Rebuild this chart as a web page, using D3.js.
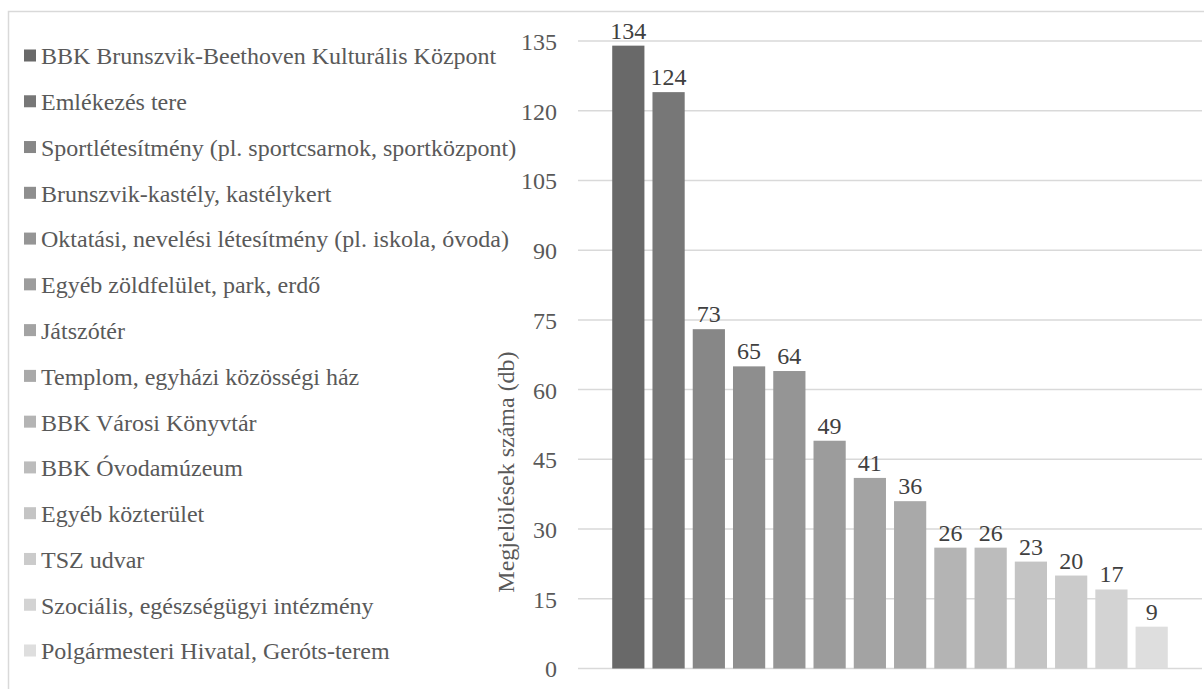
<!DOCTYPE html>
<html><head><meta charset="utf-8">
<script src="https://cdn.jsdelivr.net/npm/d3@7"></script>
<style>
html,body{margin:0;padding:0;background:#fff;}
svg{display:block;}
</style></head>
<body>
<svg id="chart" width="1204" height="689"></svg>
<script>
const categories = [
  "BBK Brunszvik-Beethoven Kulturális Központ",
  "Emlékezés tere",
  "Sportlétesítmény (pl. sportcsarnok, sportközpont)",
  "Brunszvik-kastély, kastélykert",
  "Oktatási, nevelési létesítmény (pl. iskola, óvoda)",
  "Egyéb zöldfelület, park, erdő",
  "Játszótér",
  "Templom, egyházi közösségi ház",
  "BBK Városi Könyvtár",
  "BBK Óvodamúzeum",
  "Egyéb közterület",
  "TSZ udvar",
  "Szociális, egészségügyi intézmény",
  "Polgármesteri Hivatal, Geróts-terem"
];
const values = [134, 124, 73, 65, 64, 49, 41, 36, 26, 26, 23, 20, 17, 9];
const colors = ["#696969","#777777","#878787","#8e8e8e","#959595","#9c9c9c","#a3a3a3","#a9a9a9","#b4b4b4","#bcbcbc","#c4c4c4","#cbcbcb","#d3d3d3","#dedede"];
const yTicks = [0, 15, 30, 45, 60, 75, 90, 105, 120, 135];
const yTitle = "Megjelölések száma (db)";

const FONT = "'Liberation Serif'";
const FS = 24;
const svg = d3.select("#chart");

// outer border
svg.append("rect").attr("x", 8.5).attr("y", 11.5).attr("width", 1210).attr("height", 700)
  .attr("fill", "none").attr("stroke", "#d9d9d9").attr("stroke-width", 1.5);

const x = d3.scaleBand().domain(categories).range([578, 1202]).paddingInner(0.2).paddingOuter(0.85);
const y = d3.scaleLinear().domain([0, 135]).range([668.5, 41]);

// gridlines
svg.append("g").selectAll("line").data(yTicks).join("line")
  .attr("x1", 578).attr("x2", 1202)
  .attr("y1", d => y(d)).attr("y2", d => y(d))
  .attr("stroke", "#d9d9d9").attr("stroke-width", 1.5);

// y axis labels
const yAxis = d3.axisLeft(y).tickValues(yTicks).tickSize(0).tickPadding(0);
const ga = svg.append("g").attr("transform", "translate(557,0)").call(yAxis);
ga.select(".domain").remove();
ga.selectAll("text").attr("font-family", FONT).attr("font-size", FS)
  .attr("fill", "#595959").attr("dy", "0.35em");

// bars
svg.append("g").selectAll("rect").data(values).join("rect")
  .attr("x", (d, i) => x(categories[i]))
  .attr("width", x.bandwidth())
  .attr("y", d => y(d))
  .attr("height", d => y(0) - y(d))
  .attr("fill", (d, i) => colors[i]);

// data labels
svg.append("g").selectAll("text").data(values).join("text")
  .attr("x", (d, i) => x(categories[i]) + x.bandwidth() / 2)
  .attr("y", d => y(d) - 7)
  .attr("text-anchor", "middle")
  .attr("font-family", FONT)
  .attr("font-size", FS)
  .attr("fill", "#404040")
  .text(d => d);

// y title
svg.append("text")
  .attr("transform", "translate(514,472) rotate(-90)")
  .attr("text-anchor", "middle")
  .attr("font-family", FONT)
  .attr("font-size", FS)
  .attr("fill", "#595959")
  .text(yTitle);

// legend
const lg = svg.append("g");
const rowY = d3.scaleLinear().domain([0, categories.length - 1]).range([56, 651]);
categories.forEach((c, i) => {
  lg.append("rect").attr("x", 24).attr("y", rowY(i) - 6.5).attr("width", 12).attr("height", 12).attr("fill", colors[i]);
  lg.append("text").attr("x", 41).attr("y", rowY(i)).attr("dy", "0.35em")
    .attr("font-family", FONT).attr("font-size", FS).attr("fill", "#595959").text(c);
});
</script>
</body></html>
